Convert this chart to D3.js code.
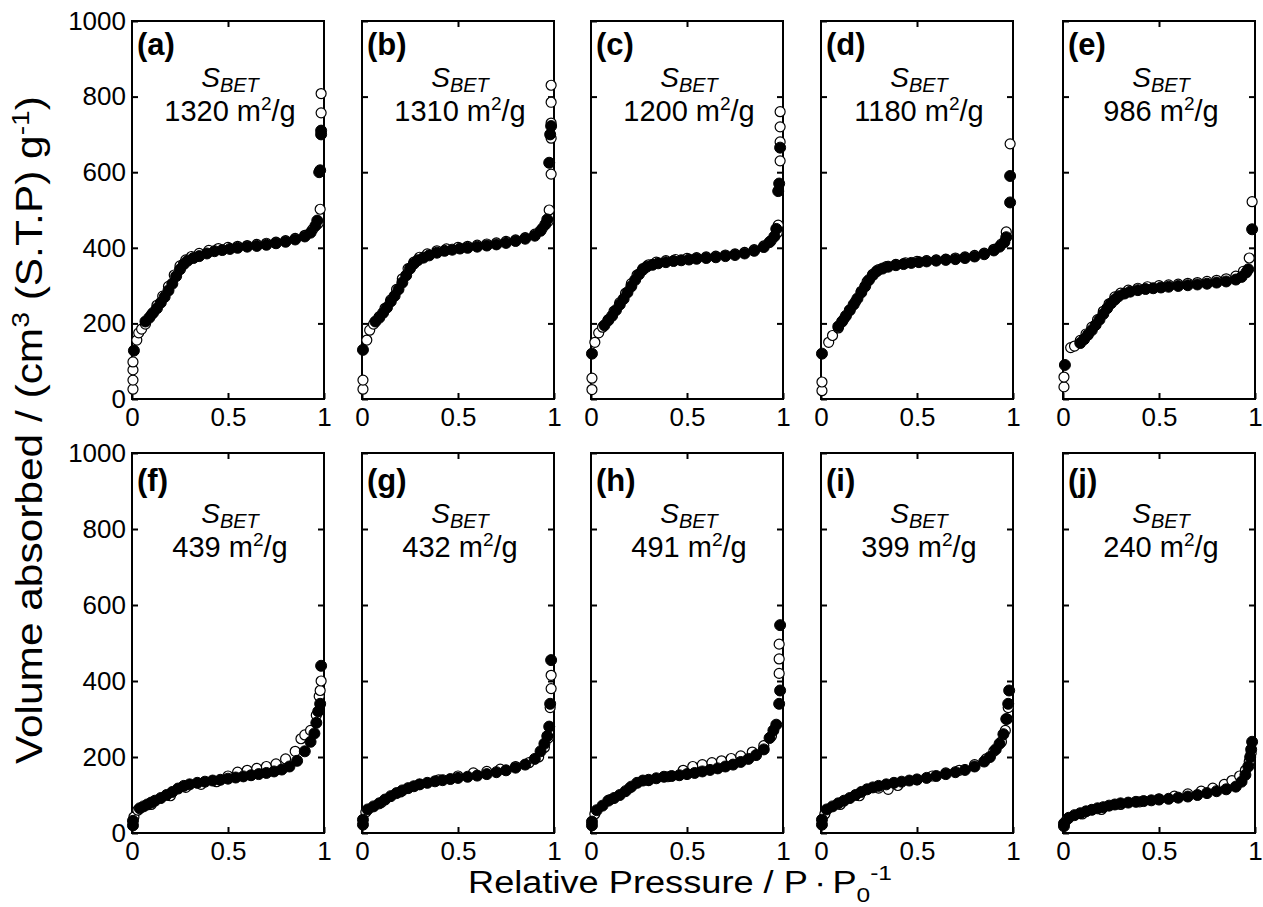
<!DOCTYPE html>
<html>
<head>
<meta charset="utf-8">
<script src="https://cdn.jsdelivr.net/npm/d3@7"></script>
<style>
  body { margin: 0; background: #fff; }
  svg text { font-family: "Liberation Sans", Arial, sans-serif; fill: #000; }
</style>
</head>
<body>
<svg id="chart" width="1263" height="907"></svg>
<script>
// ---- data ----
const panelLabels = ["(a)", "(b)", "(c)", "(d)", "(e)", "(f)", "(g)", "(h)", "(i)", "(j)"];
const surfaceAreas = [1320, 1310, 1200, 1180, 986, 439, 432, 491, 399, 240];
const xTicks = [0, 0.5, 1];
const yTicks = [0, 200, 400, 600, 800, 1000];

// filled circles = adsorption, open circles = desorption, [P/P0, volume]
const adsA = [[0.01,128],[0.07,205],[0.09,215],[0.11,228],[0.13,240],[0.15,255],[0.17,270],[0.19,287],[0.21,305],[0.23,325],[0.25,343],[0.27,357],[0.29,366],[0.32,373],[0.35,378],[0.39,385],[0.43,391],[0.47,394],[0.51,397],[0.55,400],[0.6,403],[0.65,405],[0.7,408],[0.75,412],[0.8,416],[0.85,422],[0.9,430],[0.93,440],[0.955,458],[0.965,472],[0.975,600],[0.98,605],[0.985,700],[0.985,710]];
const desA = [[0.005,26],[0.005,50],[0.005,77],[0.005,98],[0.025,156],[0.035,175],[0.05,185],[0.07,198],[0.1,222],[0.13,248],[0.16,272],[0.19,298],[0.22,328],[0.25,352],[0.28,368],[0.31,377],[0.35,385],[0.4,393],[0.45,398],[0.5,401],[0.55,404],[0.6,406],[0.65,409],[0.7,412],[0.75,415],[0.8,419],[0.85,425],[0.9,433],[0.94,448],[0.97,465],[0.98,502],[0.985,757],[0.985,808]];

const adsB = [[0.005,130],[0.07,205],[0.09,215],[0.11,228],[0.13,242],[0.15,258],[0.17,273],[0.19,290],[0.21,308],[0.23,327],[0.25,345],[0.27,358],[0.29,367],[0.32,374],[0.35,380],[0.39,387],[0.43,392],[0.47,395],[0.51,398],[0.55,400],[0.6,403],[0.65,406],[0.7,409],[0.75,413],[0.8,418],[0.85,424],[0.9,432],[0.93,445],[0.955,462],[0.965,475],[0.975,625],[0.98,700],[0.985,722]];
const desB = [[0.005,26],[0.005,50],[0.025,156],[0.04,182],[0.06,198],[0.09,218],[0.12,240],[0.15,262],[0.18,290],[0.21,318],[0.24,345],[0.27,362],[0.3,375],[0.34,384],[0.39,392],[0.44,397],[0.5,401],[0.55,404],[0.6,407],[0.65,410],[0.7,413],[0.75,417],[0.8,421],[0.85,427],[0.9,436],[0.94,452],[0.97,470],[0.975,500],[0.985,595],[0.985,690],[0.985,730],[0.985,785],[0.985,830]];

const adsC = [[0.005,120],[0.07,195],[0.09,208],[0.11,220],[0.13,235],[0.15,250],[0.17,265],[0.19,282],[0.21,298],[0.23,315],[0.25,330],[0.27,342],[0.29,350],[0.32,355],[0.35,359],[0.39,362],[0.43,365],[0.47,367],[0.51,369],[0.55,371],[0.6,373],[0.65,375],[0.7,378],[0.75,381],[0.8,385],[0.85,392],[0.9,402],[0.93,415],[0.955,430],[0.965,450],[0.975,550],[0.98,570],[0.985,665]];
const desC = [[0.005,25],[0.005,55],[0.02,150],[0.04,175],[0.06,190],[0.09,210],[0.12,232],[0.15,255],[0.18,280],[0.21,305],[0.24,328],[0.27,345],[0.3,355],[0.34,362],[0.39,366],[0.44,369],[0.5,372],[0.55,374],[0.6,376],[0.65,378],[0.7,381],[0.75,384],[0.8,388],[0.85,395],[0.9,405],[0.94,420],[0.97,440],[0.975,460],[0.985,630],[0.985,680],[0.985,720],[0.985,760]];

const adsD = [[0.005,120],[0.09,192],[0.11,205],[0.13,220],[0.15,235],[0.17,250],[0.19,266],[0.21,282],[0.23,298],[0.25,315],[0.27,328],[0.29,338],[0.32,345],[0.35,350],[0.39,354],[0.43,357],[0.47,360],[0.51,362],[0.55,364],[0.6,366],[0.65,368],[0.7,370],[0.75,373],[0.8,377],[0.85,383],[0.9,393],[0.93,403],[0.955,415],[0.965,428],[0.985,520],[0.985,590]];
const desD = [[0.005,22],[0.005,45],[0.04,150],[0.06,168],[0.09,188],[0.12,212],[0.15,235],[0.18,258],[0.21,285],[0.24,310],[0.27,330],[0.3,342],[0.34,350],[0.39,356],[0.44,360],[0.5,364],[0.55,366],[0.6,368],[0.65,370],[0.7,373],[0.75,376],[0.8,380],[0.85,386],[0.9,396],[0.94,410],[0.965,442],[0.985,675]];

const adsE = [[0.01,90],[0.09,148],[0.11,158],[0.13,170],[0.15,182],[0.17,196],[0.19,210],[0.21,225],[0.23,240],[0.25,253],[0.27,263],[0.29,272],[0.32,279],[0.35,284],[0.39,288],[0.43,291],[0.47,293],[0.51,295],[0.55,297],[0.6,299],[0.65,301],[0.7,303],[0.75,305],[0.8,308],[0.85,311],[0.9,316],[0.93,323],[0.955,335],[0.965,343],[0.985,449]];
const desE = [[0.005,32],[0.005,58],[0.04,136],[0.06,140],[0.09,155],[0.12,172],[0.15,190],[0.18,210],[0.21,232],[0.24,252],[0.27,270],[0.3,280],[0.34,288],[0.39,293],[0.44,297],[0.5,300],[0.55,302],[0.6,304],[0.65,306],[0.7,308],[0.75,311],[0.8,314],[0.85,318],[0.9,325],[0.94,338],[0.97,373],[0.985,522]];

const adsF = [[0.005,20],[0.005,32],[0.04,65],[0.06,70],[0.08,75],[0.1,80],[0.12,85],[0.15,92],[0.18,100],[0.21,108],[0.24,117],[0.27,124],[0.3,128],[0.34,132],[0.38,135],[0.42,138],[0.46,140],[0.5,143],[0.54,146],[0.58,149],[0.62,152],[0.66,155],[0.7,158],[0.74,162],[0.78,167],[0.82,175],[0.86,190],[0.9,215],[0.93,240],[0.95,262],[0.96,290],[0.97,320],[0.98,340],[0.985,440]];
const desF = [[0.01,42],[0.03,60],[0.1,75],[0.2,98],[0.28,120],[0.36,128],[0.44,135],[0.5,150],[0.55,160],[0.6,165],[0.65,170],[0.7,175],[0.75,182],[0.8,195],[0.85,215],[0.88,248],[0.9,258],[0.93,270],[0.96,310],[0.975,360],[0.98,375],[0.985,400]];

const adsG = [[0.005,22],[0.005,35],[0.03,62],[0.06,70],[0.09,78],[0.12,88],[0.15,97],[0.18,105],[0.21,112],[0.24,118],[0.27,123],[0.3,128],[0.34,132],[0.38,136],[0.42,139],[0.46,142],[0.5,145],[0.55,148],[0.6,151],[0.65,155],[0.7,160],[0.75,165],[0.8,172],[0.85,180],[0.9,195],[0.93,215],[0.95,235],[0.965,255],[0.975,280],[0.98,340],[0.985,455]];
const desG = [[0.02,55],[0.1,80],[0.2,108],[0.3,128],[0.4,140],[0.5,150],[0.58,158],[0.65,162],[0.72,168],[0.8,175],[0.87,185],[0.92,200],[0.95,225],[0.97,250],[0.98,330],[0.985,380],[0.985,415]];

const adsH = [[0.005,20],[0.005,30],[0.03,60],[0.06,72],[0.09,85],[0.12,92],[0.15,100],[0.18,110],[0.21,122],[0.24,132],[0.27,138],[0.3,140],[0.34,144],[0.38,148],[0.42,150],[0.46,152],[0.5,155],[0.54,158],[0.58,162],[0.62,166],[0.66,170],[0.7,175],[0.74,180],[0.78,187],[0.82,195],[0.86,205],[0.9,220],[0.93,250],[0.95,270],[0.965,285],[0.98,340],[0.985,375],[0.985,547]];
const desH = [[0.02,50],[0.1,88],[0.2,118],[0.3,138],[0.4,148],[0.48,165],[0.53,175],[0.58,180],[0.63,185],[0.68,190],[0.73,196],[0.78,203],[0.84,213],[0.9,230],[0.94,255],[0.98,420],[0.98,458],[0.98,497]];

const adsI = [[0.005,22],[0.005,35],[0.03,62],[0.06,70],[0.09,78],[0.12,85],[0.15,92],[0.18,100],[0.21,108],[0.24,115],[0.27,120],[0.3,124],[0.34,128],[0.38,132],[0.42,135],[0.46,138],[0.5,141],[0.55,145],[0.6,150],[0.65,155],[0.7,160],[0.75,166],[0.8,175],[0.85,188],[0.88,200],[0.91,220],[0.93,235],[0.95,260],[0.965,300],[0.975,340],[0.98,375]];
const desI = [[0.02,50],[0.1,75],[0.2,98],[0.3,118],[0.35,115],[0.4,125],[0.5,140],[0.58,150],[0.65,158],[0.72,165],[0.8,180],[0.86,195],[0.9,215],[0.94,240],[0.96,270],[0.97,300],[0.975,330]];

const adsJ = [[0.005,18],[0.005,25],[0.03,40],[0.06,47],[0.09,52],[0.12,57],[0.15,61],[0.18,65],[0.21,68],[0.24,72],[0.27,75],[0.3,78],[0.34,80],[0.38,82],[0.42,84],[0.46,86],[0.5,88],[0.55,90],[0.6,93],[0.65,96],[0.7,100],[0.75,105],[0.8,110],[0.85,115],[0.9,122],[0.93,135],[0.95,153],[0.965,175],[0.975,200],[0.98,220],[0.985,240]];
const desJ = [[0.02,35],[0.1,50],[0.2,62],[0.3,75],[0.4,82],[0.5,90],[0.58,97],[0.65,103],[0.72,110],[0.78,118],[0.84,128],[0.88,138],[0.92,150],[0.95,165],[0.97,188],[0.98,210]];

const adsorption = [adsA, adsB, adsC, adsD, adsE, adsF, adsG, adsH, adsI, adsJ];
const desorption = [desA, desB, desC, desD, desE, desF, desG, desH, desI, desJ];

// ---- layout ----
const colLefts = [132, 362, 591, 821, 1063];
const rowTops = [21, 453];
const panelW = 192;
const panelH = [378, 380];
const labelOffsets = [
  { tag: 34, s: 66, area: 100 },
  { tag: 38, s: 70, area: 104 }
];

const svg = d3.select("#chart");

function styleAxis(g, showLabels) {
  g.select(".domain").remove();
  g.selectAll(".tick line").attr("stroke", "#000").attr("stroke-width", 2);
  g.selectAll(".tick text")
    .attr("font-size", 26)
    .attr("font-family", "Liberation Sans, Arial, sans-serif")
    .style("display", showLabels ? null : "none");
  g.attr("font-family", null).attr("font-size", null);
}

panelLabels.forEach((label, i) => {
  const col = i % 5, row = Math.floor(i / 5);
  const h = panelH[row];
  const x = d3.scaleLinear().domain([0, 1]).range([0, panelW]);
  const y = d3.scaleLinear().domain([0, 1000]).range([h, 0]);

  const g = svg.append("g")
    .attr("transform", `translate(${colLefts[col]},${rowTops[row]})`);

  // inward ticks on all four sides
  g.append("g").attr("transform", `translate(0,${h})`)
    .call(d3.axisBottom(x).tickValues(xTicks).tickFormat(d3.format("")).tickSizeInner(-6).tickSizeOuter(0).tickPadding(9))
    .call(ax => styleAxis(ax, true));
  g.append("g")
    .call(d3.axisTop(x).tickValues([0.5]).tickSizeInner(-6).tickSizeOuter(0))
    .call(ax => styleAxis(ax, false));
  g.append("g")
    .call(d3.axisLeft(y).tickValues(yTicks).tickFormat(d3.format("d")).tickSizeInner(-6).tickSizeOuter(0).tickPadding(6))
    .call(ax => styleAxis(ax, col === 0));
  g.append("g").attr("transform", `translate(${panelW},0)`)
    .call(d3.axisRight(y).tickValues(yTicks.slice(1, -1)).tickSizeInner(-6).tickSizeOuter(0))
    .call(ax => styleAxis(ax, false));

  g.append("rect")
    .attr("width", panelW).attr("height", h)
    .attr("fill", "none").attr("stroke", "#000").attr("stroke-width", 2);

  // open circles first, filled circles drawn over them
  g.append("g").selectAll("circle")
    .data(desorption[i])
    .join("circle")
    .attr("cx", d => x(d[0]))
    .attr("cy", d => y(d[1]))
    .attr("r", 5)
    .attr("fill", "#fff")
    .attr("stroke", "#000")
    .attr("stroke-width", 1.2);

  g.append("g").selectAll("circle")
    .data(adsorption[i])
    .join("circle")
    .attr("cx", d => x(d[0]))
    .attr("cy", d => y(d[1]))
    .attr("r", 5.5)
    .attr("fill", "#000")
    .attr("stroke", "#000")
    .attr("stroke-width", 1);

  const off = labelOffsets[row];
  g.append("text")
    .attr("x", 5).attr("y", off.tag)
    .attr("font-size", 31).attr("font-weight", "bold")
    .text(label);

  const s = g.append("text")
    .attr("x", panelW / 2 + 2).attr("y", off.s)
    .attr("text-anchor", "middle")
    .attr("font-size", 28).attr("font-style", "italic");
  s.append("tspan").text("S");
  s.append("tspan").attr("font-size", 20).attr("dy", 5).text("BET");

  const a = g.append("text")
    .attr("x", panelW / 2 + 2).attr("y", off.area)
    .attr("text-anchor", "middle")
    .attr("font-size", 29);
  a.append("tspan").text(`${surfaceAreas[i]} m`);
  a.append("tspan").attr("font-size", 19).attr("dy", -11).text("2");
  a.append("tspan").attr("dy", 11).text("/g");
});

// axis titles
const yTitle = svg.append("text")
  .attr("transform", "translate(42,430) rotate(-90)")
  .attr("text-anchor", "middle")
  .attr("font-size", 36)
  .attr("textLength", 668)
  .attr("lengthAdjust", "spacingAndGlyphs");
yTitle.append("tspan").text("Volume absorbed / (cm");
yTitle.append("tspan").attr("font-size", 24).attr("dy", -13).text("3");
yTitle.append("tspan").attr("dy", 13).text(" (S.T.P) g");
yTitle.append("tspan").attr("font-size", 24).attr("dy", -13).text("-1");
yTitle.append("tspan").attr("dy", 13).text(")");

const xTitle = svg.append("text")
  .attr("x", 680).attr("y", 893)
  .attr("text-anchor", "middle")
  .attr("font-size", 31)
  .attr("textLength", 424)
  .attr("lengthAdjust", "spacingAndGlyphs");
xTitle.append("tspan").text("Relative Pressure / P\u2009\u2219\u2009P");
xTitle.append("tspan").attr("font-size", 21).attr("dy", 9).text("0");
xTitle.append("tspan").attr("font-size", 21).attr("dy", -22).text("-1");
</script>
</body>
</html>
